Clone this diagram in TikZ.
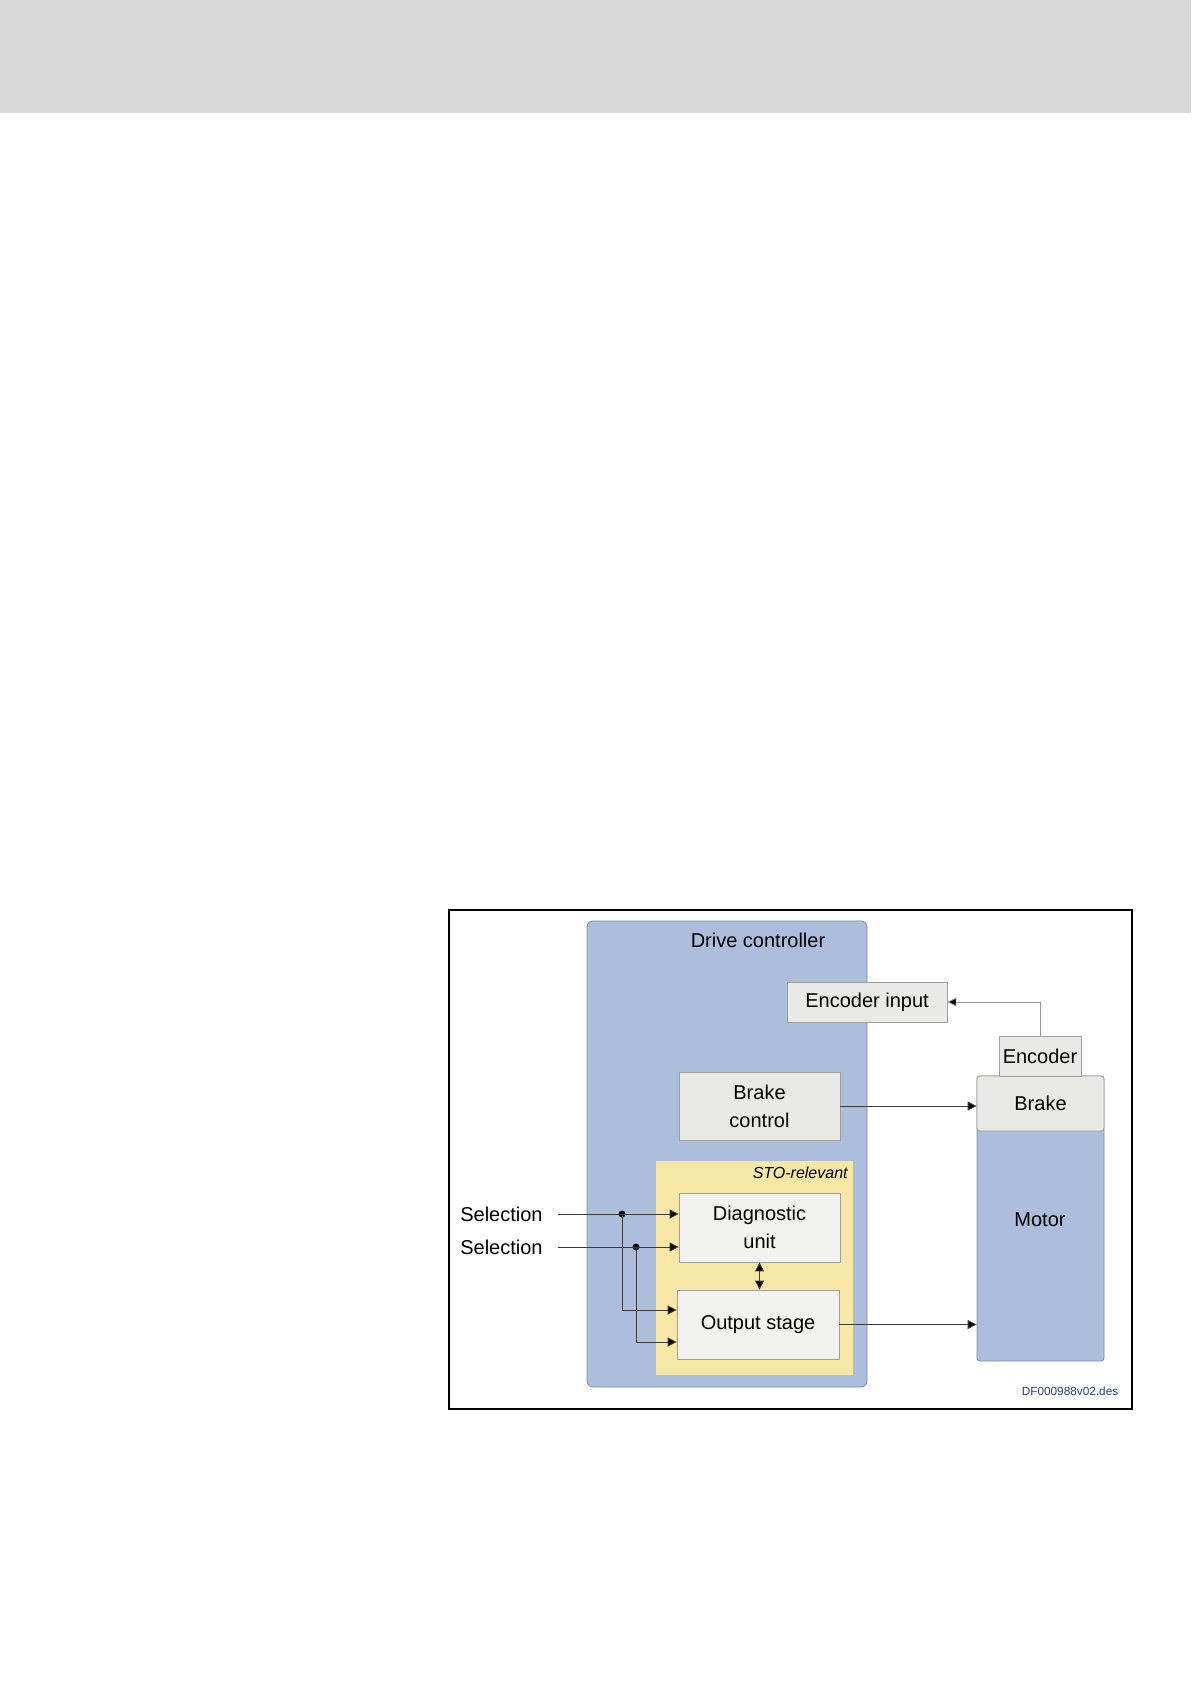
\documentclass[tikz,border=0pt]{standalone}
\usepackage{fontspec}
\setmainfont{Liberation Sans}
\usetikzlibrary{arrows.meta, positioning, calc}
\definecolor{bandgray} {RGB}{217,217,217}
\definecolor{ctrlblue} {RGB}{173,189,220}
\definecolor{ctrledge} {RGB}{125,135,165}
\definecolor{unitgray} {RGB}{233,233,230}
\definecolor{unitedge} {RGB}{160,160,160}
\definecolor{stoyellow}{RGB}{246,231,166}
\definecolor{linegray} {RGB}{60,60,60}
\definecolor{lgray}    {RGB}{150,150,150}
\definecolor{docblue}  {RGB}{40,60,140}

\tikzset{
  txt/.style={font=\fontsize{10}{14}\selectfont, align=center},
  unit/.style={txt, fill=unitgray, draw=unitedge, line width=0.4pt,
               inner sep=0pt},
  ctrl/.style={fill=ctrlblue, draw=ctrledge, line width=0.4pt,
               rounded corners=3pt, inner sep=0pt},
  sig/.style={draw=linegray, line width=0.45pt,
              -{Triangle[length=4.5pt,width=4.5pt,fill=black]}},
  junct/.style={circle, fill=black, inner sep=0pt, minimum size=3.5pt}
}

\begin{document}
\begin{tikzpicture}[x=0.5pt, y=-0.5pt]
  \useasboundingbox (0,0) rectangle (1191,1684);
  % page header band
  \fill[bandgray] (0,0) rectangle (1191,113);
  % figure frame
  \draw[line width=1pt] (449,910) rectangle (1132,1409);

  % drive controller with STO area
  \node[ctrl, minimum width=140pt, minimum height=233pt] (drive) at (727,1154) {};
  \node[txt] (drivelbl) at (758,940) {Drive controller};
  \node[fill=stoyellow, inner sep=0pt, minimum width=98.5pt,
        minimum height=107pt] (sto) at (754.5,1268) {};
  \node[txt, anchor=east, inner xsep=0pt, font=\fontsize{8}{9}\selectfont\itshape]
    (stolbl) at (848,1173) {STO-relevant};

  \node[unit, minimum width=80pt, minimum height=20pt] (encin) at (867,1002) {Encoder input};
  \node[unit, minimum width=80.5pt, minimum height=34pt] (brakectl) at (759.5,1106) {Brake\\control};
  \node[unit, fill=unitgray!60!white, minimum width=80.5pt, minimum height=34.5pt]
    (diag) at (759.5,1227.5) {Diagnostic\\unit};
  \node[unit, fill=unitgray!60!white, minimum width=81pt, minimum height=34.5pt]
    (out) at (758,1324.5) {Output stage};

  % motor side
  \node[ctrl, rounded corners=1.5pt, minimum width=63.5pt, minimum height=142.5pt]
    (motor) at (1040.5,1218.5) {};
  \node[txt] (motorlbl) at (1040,1220) {Motor};
  \node[unit, rounded corners=1.5pt, minimum width=63.5pt, minimum height=27.5pt]
    (brake) at (1040.5,1103.5) {Brake};
  \node[unit, minimum width=41pt, minimum height=20pt] (enc) at (1040,1056) {Encoder};

  % selection inputs
  \node[txt, anchor=east, inner xsep=7.5pt] (sel1) at (558,1214) {Selection};
  \node[txt, anchor=east, inner xsep=7.5pt] (sel2) at (558,1247) {Selection};
  \node[junct] (j1) at (622,1214) {};
  \node[junct] (j2) at (636,1247) {};

  \draw[sig] (sel1.east) -- (sel1.east -| diag.west);
  \draw[sig] (sel2.east) -- (sel2.east -| diag.west);
  \draw[sig] (j1.center) |- ($(out.west)+(0,-14.5)$);
  \draw[sig] (j2.center) |- ($(out.west)+(0,17.5)$);
  \draw[sig, {Triangle[length=4.5pt,width=4.5pt,fill=black]}-{Triangle[length=4.5pt,width=4.5pt,fill=black]}]
    (diag.south) -- (diag.south |- out.north);

  \draw[sig] (out.east) -- (out.east -| motor.west);
  \draw[sig] (brakectl.east) -- (brakectl.east -| brake.west);
  \draw[sig, draw=lgray] (enc.north) |- (encin.east);

  \node[font=\fontsize{5.9}{7}\selectfont, text=docblue] (docid) at (1070,1391) {DF000988v02.des};
\end{tikzpicture}
\end{document}
